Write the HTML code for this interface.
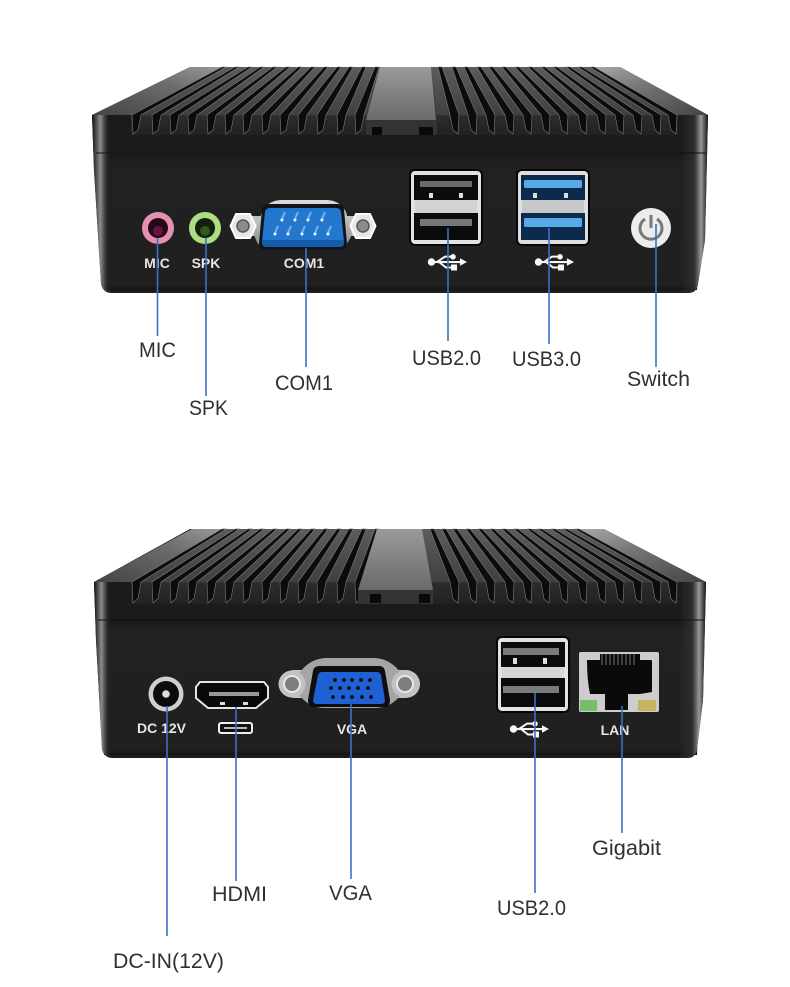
<!DOCTYPE html>
<html><head><meta charset="utf-8"><style>html,body{margin:0;padding:0;background:#fff}svg{display:block}
.w{font:bold 14px "Liberation Sans",sans-serif;fill:#e6e6e6;text-anchor:middle}
.l{font:21px "Liberation Sans",sans-serif;fill:#303030}
.c{stroke:#3b6fc9;stroke-width:1.6;fill:none}</style></head><body>
<svg xmlns="http://www.w3.org/2000/svg" width="790" height="987" viewBox="0 0 790 987">
<defs>
<linearGradient id="b" x1="0" y1="0" x2="0" y2="1"><stop offset="0" stop-color="#1b1b1b"/><stop offset=".25" stop-color="#1b1b1b"/><stop offset=".27" stop-color="#212121"/><stop offset=".97" stop-color="#202020"/><stop offset="1" stop-color="#131313"/></linearGradient>
<linearGradient id="f" x1="0" y1="0" x2="0" y2="1"><stop offset="0" stop-color="#5c5c5c"/><stop offset=".7" stop-color="#404040"/><stop offset=".72" stop-color="#2c2c2c"/><stop offset="1" stop-color="#222"/></linearGradient>
<linearGradient id="hl" x1="0" y1="0" x2="1" y2="0"><stop offset="0" stop-color="#101010"/><stop offset=".4" stop-color="#8c8c8c"/><stop offset=".72" stop-color="#2a2a2a" stop-opacity=".7"/><stop offset="1" stop-color="#1d1d1d" stop-opacity="0"/></linearGradient>
<linearGradient id="hr" x1="0" y1="0" x2="1" y2="0"><stop offset="0" stop-color="#333" stop-opacity="0"/><stop offset=".5" stop-color="#333" stop-opacity=".7"/><stop offset=".75" stop-color="#9a9a9a"/><stop offset="1" stop-color="#111"/></linearGradient>
<linearGradient id="wl" x1="0" y1="1" x2="1" y2="0"><stop offset="0" stop-color="#444"/><stop offset=".6" stop-color="#6c6c6c"/><stop offset="1" stop-color="#999"/></linearGradient>
<linearGradient id="wr" x1="1" y1="1" x2="0" y2="0"><stop offset="0" stop-color="#444"/><stop offset=".6" stop-color="#777"/><stop offset="1" stop-color="#aaa"/></linearGradient>
<linearGradient id="ch" x1="0" y1="0" x2="0" y2="1"><stop offset="0" stop-color="#9a9a9a"/><stop offset="1" stop-color="#6a6a6a"/></linearGradient>
<linearGradient id="silver" x1="0" y1="0" x2="0" y2="1"><stop offset="0" stop-color="#dcdcdc"/><stop offset="1" stop-color="#8a8a8a"/></linearGradient>
<g id="sl" fill="#0c0c0c" stroke="#7a7a7a" stroke-width=".6">
<polygon points="222,67 226,67 141,115 138,130 133,134 132,115"/>
<polygon points="235,67 239,67 161,115 158,130 153,134 152,115"/>
<polygon points="248,67 252,67 179,115 176,130 171,134 170,115"/>
<polygon points="260,67 264,67 197,115 194,130 189,134 188,115"/>
<polygon points="273,67 277,67 216,115 213,130 208,134 207,115"/>
<polygon points="286,67 290,67 234,115 231,130 226,134 225,115"/>
<polygon points="298,67 302,67 252,115 249,130 244,134 243,115"/>
<polygon points="311,67 315,67 271,115 268,130 263,134 262,115"/>
<polygon points="324,67 328,67 289,115 286,130 281,134 280,115"/>
<polygon points="337,67 341,67 307,115 304,130 299,134 298,115"/>
<polygon points="349,67 353,67 326,115 323,130 318,134 317,115"/>
<polygon points="362,67 366,67 346,115 343,130 338,134 337,115"/>
<polygon points="375,67 379,67 364,115 361,130 356,134 355,115"/>
</g>
<g id="usb" fill="#f8f8f8" stroke="none">
<circle cx="3.5" cy="7" r="3.7"/><rect x="3" y="6" width="31" height="2.1"/><polygon points="32,3.200 39,7 32,10.800"/>
<path d="M9 7 L17 1.600 H23 M11 7 L18 12.500 H24" fill="none" stroke="#f8f8f8" stroke-width="2"/>
<circle cx="25" cy="1.800" r="2.800"/><rect x="23" y="9.500" width="6" height="6"/>
</g>
<g id="nut"><polygon points="-12.500,0 -7,-12 7,-12 12.500,0 7,12 -7,12" fill="#e6e6e6" stroke="#fff" stroke-width="2" stroke-linejoin="round"/><circle r="6" fill="#8b8b8b" stroke="#555" stroke-width="1.500"/></g>
<g id="ring"><circle r="13.500" fill="#c2c2c2"/><circle r="8" fill="#7d7d7d" stroke="#e8e8e8" stroke-width="2"/></g>
</defs>
<rect width="790" height="987" fill="#fff"/>

<!-- TOP DEVICE -->
<path d="M92 115 L190 67 H620 L708 115 L705 240 L698 284 Q697 293 688 293 H112 Q103 293 101 284 L94 170 Z" fill="#1d1d1d"/>
<path d="M94 115 H706 L697 290 H104 Z" fill="url(#b)"/>
<polygon points="131,115 222,67 590,67 678,115 678,135 131,135" fill="url(#f)"/>
<polygon points="92,115 190,67 223,67 132,115" fill="url(#wl)"/>
<polygon points="708,115 620,67 590,67 668,115" fill="url(#wr)"/>
<use href="#sl"/>
<g fill="#0c0c0c" stroke="#7a7a7a" stroke-width=".6">
<polygon points="438,67 442,67 459,115 458,134 453,130 450,115"/>
<polygon points="452,67 456,67 477,115 476,134 471,130 468,115"/>
<polygon points="464,67 468,67 495,115 494,134 489,130 486,115"/>
<polygon points="477,67 481,67 514,115 513,134 508,130 505,115"/>
<polygon points="489,67 493,67 532,115 531,134 526,130 523,115"/>
<polygon points="502,67 506,67 550,115 549,134 544,130 541,115"/>
<polygon points="515,67 519,67 568,115 567,134 562,130 559,115"/>
<polygon points="528,67 532,67 587,115 586,134 581,130 578,115"/>
<polygon points="541,67 545,67 606,115 605,134 600,130 597,115"/>
<polygon points="553,67 557,67 624,115 623,134 618,130 615,115"/>
<polygon points="566,67 570,67 642,115 641,134 636,130 633,115"/>
<polygon points="578,67 582,67 661,115 660,134 655,130 652,115"/>
<polygon points="590,67 594,67 677,115 676,134 671,130 668,115"/>
</g>
<polygon points="380,67 431,67 437,120 437,135 366,135 366,120" fill="#333"/>
<polygon points="380,67 431,67 436,120 366,120" fill="url(#ch)"/>
<rect x="372" y="127" width="10" height="8" fill="#0a0a0a"/><rect x="419" y="127" width="14" height="8" fill="#0a0a0a"/>
<path d="M92 115 L108 115 L113 293 H111 Q103 292 101 284 L94 170 Z" fill="url(#hl)"/>
<path d="M684 115 H708 L705 240 L698 284 Q697 292 689 293 H680 Z" fill="url(#hr)"/>
<rect x="96" y="152.500" width="610" height="1" fill="#111"/>

<circle cx="158" cy="228" r="16" fill="#e78fb2"/><circle cx="158" cy="228" r="10" fill="#250a16"/><circle cx="158" cy="231" r="5" fill="#6d1240"/>
<circle cx="205" cy="228" r="16" fill="#acdf82"/><circle cx="205" cy="228" r="10" fill="#141f0d"/><circle cx="205" cy="231" r="5" fill="#2f5a1a"/>
<text class="w" x="157" y="268" font-size="14.5">MIC</text>
<text class="w" x="206" y="268">SPK</text>
<text class="w" x="304" y="268">COM1</text>

<rect x="238" y="216" width="130" height="20" fill="#c0c0c0"/>
<path d="M262 212 Q268 200 282 200 H326 Q340 200 346 212 L352 234 Q346 250 335 250 H270 Q258 250 254 234 Z" fill="url(#silver)"/>
<use href="#nut" x="243" y="226"/><use href="#nut" x="363" y="226"/>
<path d="M268 204 H338 Q343 204 344 209 L347 244 Q347 250 340 250 H266 Q259 250 259 244 L262 209 Q263 204 268 204Z" fill="#10151c"/>
<path d="M270 208 H336 Q340 208 341 212 L344 242 Q344 247 339 247 H267 Q262 247 262 242 L265 212 Q266 208 270 208Z" fill="#2378cd"/>
<path d="M262 240 H344 V243 Q344 247 339 247 H267 Q262 247 262 243Z" fill="#155ca8"/>
<g stroke="#73b4ea" stroke-width="2"><path d="M281 221 L285 212 M294 221 L298 212 M307 221 L311 212 M321 221 L325 212 M274 235 L278 226 M287 235 L291 226 M301 235 L305 226 M314 235 L318 226 M327 235 L331 226"/></g>
<g fill="#f0f0f0"><circle cx="282" cy="220" r="1.500"/><circle cx="295" cy="220" r="1.500"/><circle cx="308" cy="220" r="1.500"/><circle cx="322" cy="220" r="1.500"/><circle cx="275" cy="234" r="1.500"/><circle cx="288" cy="234" r="1.500"/><circle cx="302" cy="234" r="1.500"/><circle cx="315" cy="234" r="1.500"/><circle cx="328" cy="234" r="1.500"/></g>

<!-- USB2 top -->
<rect x="409" y="169" width="74" height="77" rx="6" fill="#060606"/>
<rect x="411" y="171" width="70" height="73" rx="4" fill="#e2e2e2"/>
<rect x="414" y="175" width="64" height="25" fill="#0b0b0b"/><rect x="414" y="213" width="64" height="27" fill="#0b0b0b"/>
<rect x="415" y="200" width="62" height="13" fill="#d2d2d2"/>
<rect x="420" y="181" width="52" height="6" fill="#6a6a6a"/><rect x="420" y="219" width="52" height="7" fill="#777"/>
<g fill="#ddd"><rect x="429" y="193" width="4" height="5"/><rect x="459" y="193" width="4" height="5"/></g>
<!-- USB3 top -->
<rect x="516" y="169" width="74" height="77" rx="6" fill="#060606"/>
<rect x="518" y="171" width="70" height="73" rx="4" fill="#dedede"/>
<rect x="521" y="175" width="64" height="25" fill="#0c2a4c"/><rect x="521" y="213" width="64" height="27" fill="#0c2a4c"/>
<rect x="522" y="200" width="62" height="13" fill="#c8c8c8"/>
<rect x="524" y="180" width="58" height="8" rx="1.500" fill="#58a9ea"/><rect x="524" y="218" width="58" height="9" rx="1.500" fill="#58a9ea"/>
<g fill="#ddd"><rect x="533" y="193" width="4" height="5"/><rect x="564" y="193" width="4" height="5"/></g>
<use href="#usb" x="428" y="255"/><use href="#usb" x="535" y="255"/>
<!-- switch -->
<circle cx="651" cy="228" r="20" fill="#ececec"/>
<path d="M645 219 A11 11 0 1 0 657 219" fill="none" stroke="#777" stroke-width="3"/><path d="M651 215 V228" stroke="#777" stroke-width="3"/>

<path class="c" d="M157.500 238 V336 M206 238 V396 M306 248 V367 M448 228 V341 M549 228 V344 M656 224 V367"/>
<text class="l" x="139" y="357" textLength="37" lengthAdjust="spacingAndGlyphs">MIC</text>
<text class="l" x="189" y="415" textLength="39" lengthAdjust="spacingAndGlyphs">SPK</text>
<text class="l" x="275" y="390" textLength="58" lengthAdjust="spacingAndGlyphs">COM1</text>
<text class="l" x="412" y="365" textLength="69" lengthAdjust="spacingAndGlyphs">USB2.0</text>
<text class="l" x="512" y="366" textLength="69" lengthAdjust="spacingAndGlyphs">USB3.0</text>
<text class="l" x="627" y="386" textLength="63" lengthAdjust="spacingAndGlyphs">Switch</text>

<!-- BOTTOM DEVICE -->
<path d="M94 582 L190 529 H604 L706 582 L703 700 L697 749 Q696 758 687 758 H113 Q104 758 102 749 L96 640 Z" fill="#1d1d1d"/>
<path d="M96 582 H704 L697 755 H104 Z" fill="url(#b)"/>
<polygon points="131,582 223,529 575,529 678,582 678,604 131,604" fill="url(#f)"/>
<polygon points="94,582 192,529 224,529 132,582" fill="url(#wl)"/>
<polygon points="706,582 604,529 575,529 668,582" fill="url(#wr)"/>
<use href="#sl" transform="translate(0 529) scale(1 1.104) translate(0 -67)"/>
<g fill="#0c0c0c" stroke="#7a7a7a" stroke-width=".6">
<polygon points="430,529 434,529 459,582 458,603 453,599 450,582"/>
<polygon points="442,529 446,529 477,582 476,603 471,599 468,582"/>
<polygon points="453,529 457,529 495,582 494,603 489,599 486,582"/>
<polygon points="466,529 470,529 514,582 513,603 508,599 505,582"/>
<polygon points="478,529 482,529 532,582 531,603 526,599 523,582"/>
<polygon points="490,529 494,529 550,582 549,603 544,599 541,582"/>
<polygon points="502,529 506,529 568,582 567,603 562,599 559,582"/>
<polygon points="514,529 518,529 587,582 586,603 581,599 578,582"/>
<polygon points="527,529 531,529 606,582 605,603 600,599 597,582"/>
<polygon points="538,529 542,529 624,582 623,603 618,599 615,582"/>
<polygon points="551,529 555,529 642,582 641,603 636,599 633,582"/>
<polygon points="563,529 567,529 661,582 660,603 655,599 652,582"/>
<polygon points="575,529 579,529 677,582 676,603 671,599 668,582"/>
</g>
<polygon points="377,529 422,529 433,590 433,604 358,604 358,590" fill="#333"/>
<polygon points="377,529 422,529 433,590 358,590" fill="url(#ch)"/>
<rect x="370" y="594" width="11" height="9" fill="#0a0a0a"/><rect x="419" y="594" width="11" height="9" fill="#0a0a0a"/>
<path d="M94 582 L108 582 L113 758 H112 Q104 757 102 749 L96 640 Z" fill="url(#hl)"/>
<path d="M682 582 H706 L703 700 L697 749 Q696 757 688 758 H678 Z" fill="url(#hr)"/>
<rect x="98" y="619.500" width="606" height="1" fill="#111"/>

<circle cx="166" cy="694" r="17.500" fill="#cfcfcf"/><circle cx="166" cy="694" r="13" fill="#0c0c0c"/><circle cx="166" cy="694" r="3.800" fill="#ddd"/>
<text class="w" x="161.500" y="733" font-size="14.5">DC 12V</text>
<path d="M200 682 H264 L268 687 V698 L256 708 H208 L196 698 V687 Z" fill="#0a0a0a" stroke="#e4e4e4" stroke-width="2"/>
<rect x="209" y="692" width="50" height="4" fill="#999"/>
<rect x="220" y="702" width="5" height="3" fill="#ddd"/><rect x="243" y="702" width="5" height="3" fill="#ddd"/>
<rect x="219" y="723" width="33" height="10" rx="2" fill="#111" stroke="#efefef" stroke-width="2"/><rect x="224" y="727" width="23" height="2" fill="#bbb"/>
<rect x="280" y="670" width="140" height="28" rx="14" fill="#c2c2c2"/>
<path d="M300 672 Q310 659 325 658 H375 Q390 659 400 672 L412 684 L400 696 Q390 708 375 708 H325 Q310 708 300 696 L288 684Z" fill="#a5a5a5"/>
<use href="#ring" x="292" y="684"/><use href="#ring" x="405" y="684"/>
<path d="M319 666 H379 Q384 666 385 671 L390 700 Q390 707 384 707 H314 Q308 707 308 700 L313 671 Q314 666 319 666Z" fill="#0e0e0e"/>
<path d="M322 672 H377 Q380 672 381 675 L385 700 Q385 704 381 704 H317 Q313 704 313 700 L318 675 Q319 672 322 672Z" fill="#1f61d4"/>
<g fill="#0a0a0a"><circle cx="335" cy="680" r="1.900"/><circle cx="344" cy="680" r="1.900"/><circle cx="352" cy="680" r="1.900"/><circle cx="361" cy="680" r="1.900"/><circle cx="370" cy="680" r="1.900"/><circle cx="331" cy="688" r="1.900"/><circle cx="340" cy="688" r="1.900"/><circle cx="349" cy="688" r="1.900"/><circle cx="358" cy="688" r="1.900"/><circle cx="368" cy="688" r="1.900"/><circle cx="333" cy="697" r="1.900"/><circle cx="343" cy="697" r="1.900"/><circle cx="352" cy="697" r="1.900"/><circle cx="362" cy="697" r="1.900"/><circle cx="371" cy="697" r="1.900"/></g>
<text class="w" x="352" y="734">VGA</text>
<!-- USB2 bottom -->
<rect x="496" y="636" width="74" height="77" rx="6" fill="#060606"/>
<rect x="498" y="638" width="70" height="73" rx="4" fill="#e2e2e2"/>
<rect x="501" y="642" width="64" height="25" fill="#0b0b0b"/><rect x="501" y="678" width="64" height="29" fill="#0b0b0b"/>
<rect x="502" y="667" width="62" height="11" fill="#d6d6d6"/>
<rect x="503" y="648" width="56" height="7" fill="#7a7a7a"/><rect x="503" y="686" width="56" height="7" fill="#7a7a7a"/>
<g fill="#ddd"><rect x="513" y="658" width="4" height="6"/><rect x="543" y="658" width="4" height="6"/></g>
<use href="#usb" x="510" y="722"/>
<!-- LAN -->
<rect x="579" y="652" width="80" height="60" rx="2" fill="#cdcdcd"/>
<path d="M600 654 H640 V660 H651 Q652 660 652 662 V692 L640 694 H628 V710 H605 V694 H590 Q587 680 587 660 H600Z" fill="#0a0a0a"/>
<g stroke="#777" stroke-width="1"><path d="M602 654 V665 M606 654 V665 M610 654 V665 M614 654 V665 M618 654 V665 M622 654 V665 M626 654 V665 M630 654 V665 M634 654 V665"/></g>
<rect x="580" y="700" width="17" height="11" fill="#79bd6c"/><rect x="638" y="700" width="18" height="11" fill="#c9b25f"/>
<text class="w" x="615" y="735" font-size="14.5">LAN</text>

<path class="c" d="M167 706 V936 M236 707 V881 M351 704 V879 M535 693 V893 M622 706 V833"/>
<text class="l" x="212" y="901" textLength="55" lengthAdjust="spacingAndGlyphs">HDMI</text>
<text class="l" x="329" y="900" textLength="43" lengthAdjust="spacingAndGlyphs">VGA</text>
<text class="l" x="497" y="915" textLength="69" lengthAdjust="spacingAndGlyphs">USB2.0</text>
<text class="l" x="592" y="855" textLength="69" lengthAdjust="spacingAndGlyphs">Gigabit</text>
<text class="l" x="113" y="968" textLength="111" lengthAdjust="spacingAndGlyphs">DC-IN(12V)</text>
</svg></body></html>
